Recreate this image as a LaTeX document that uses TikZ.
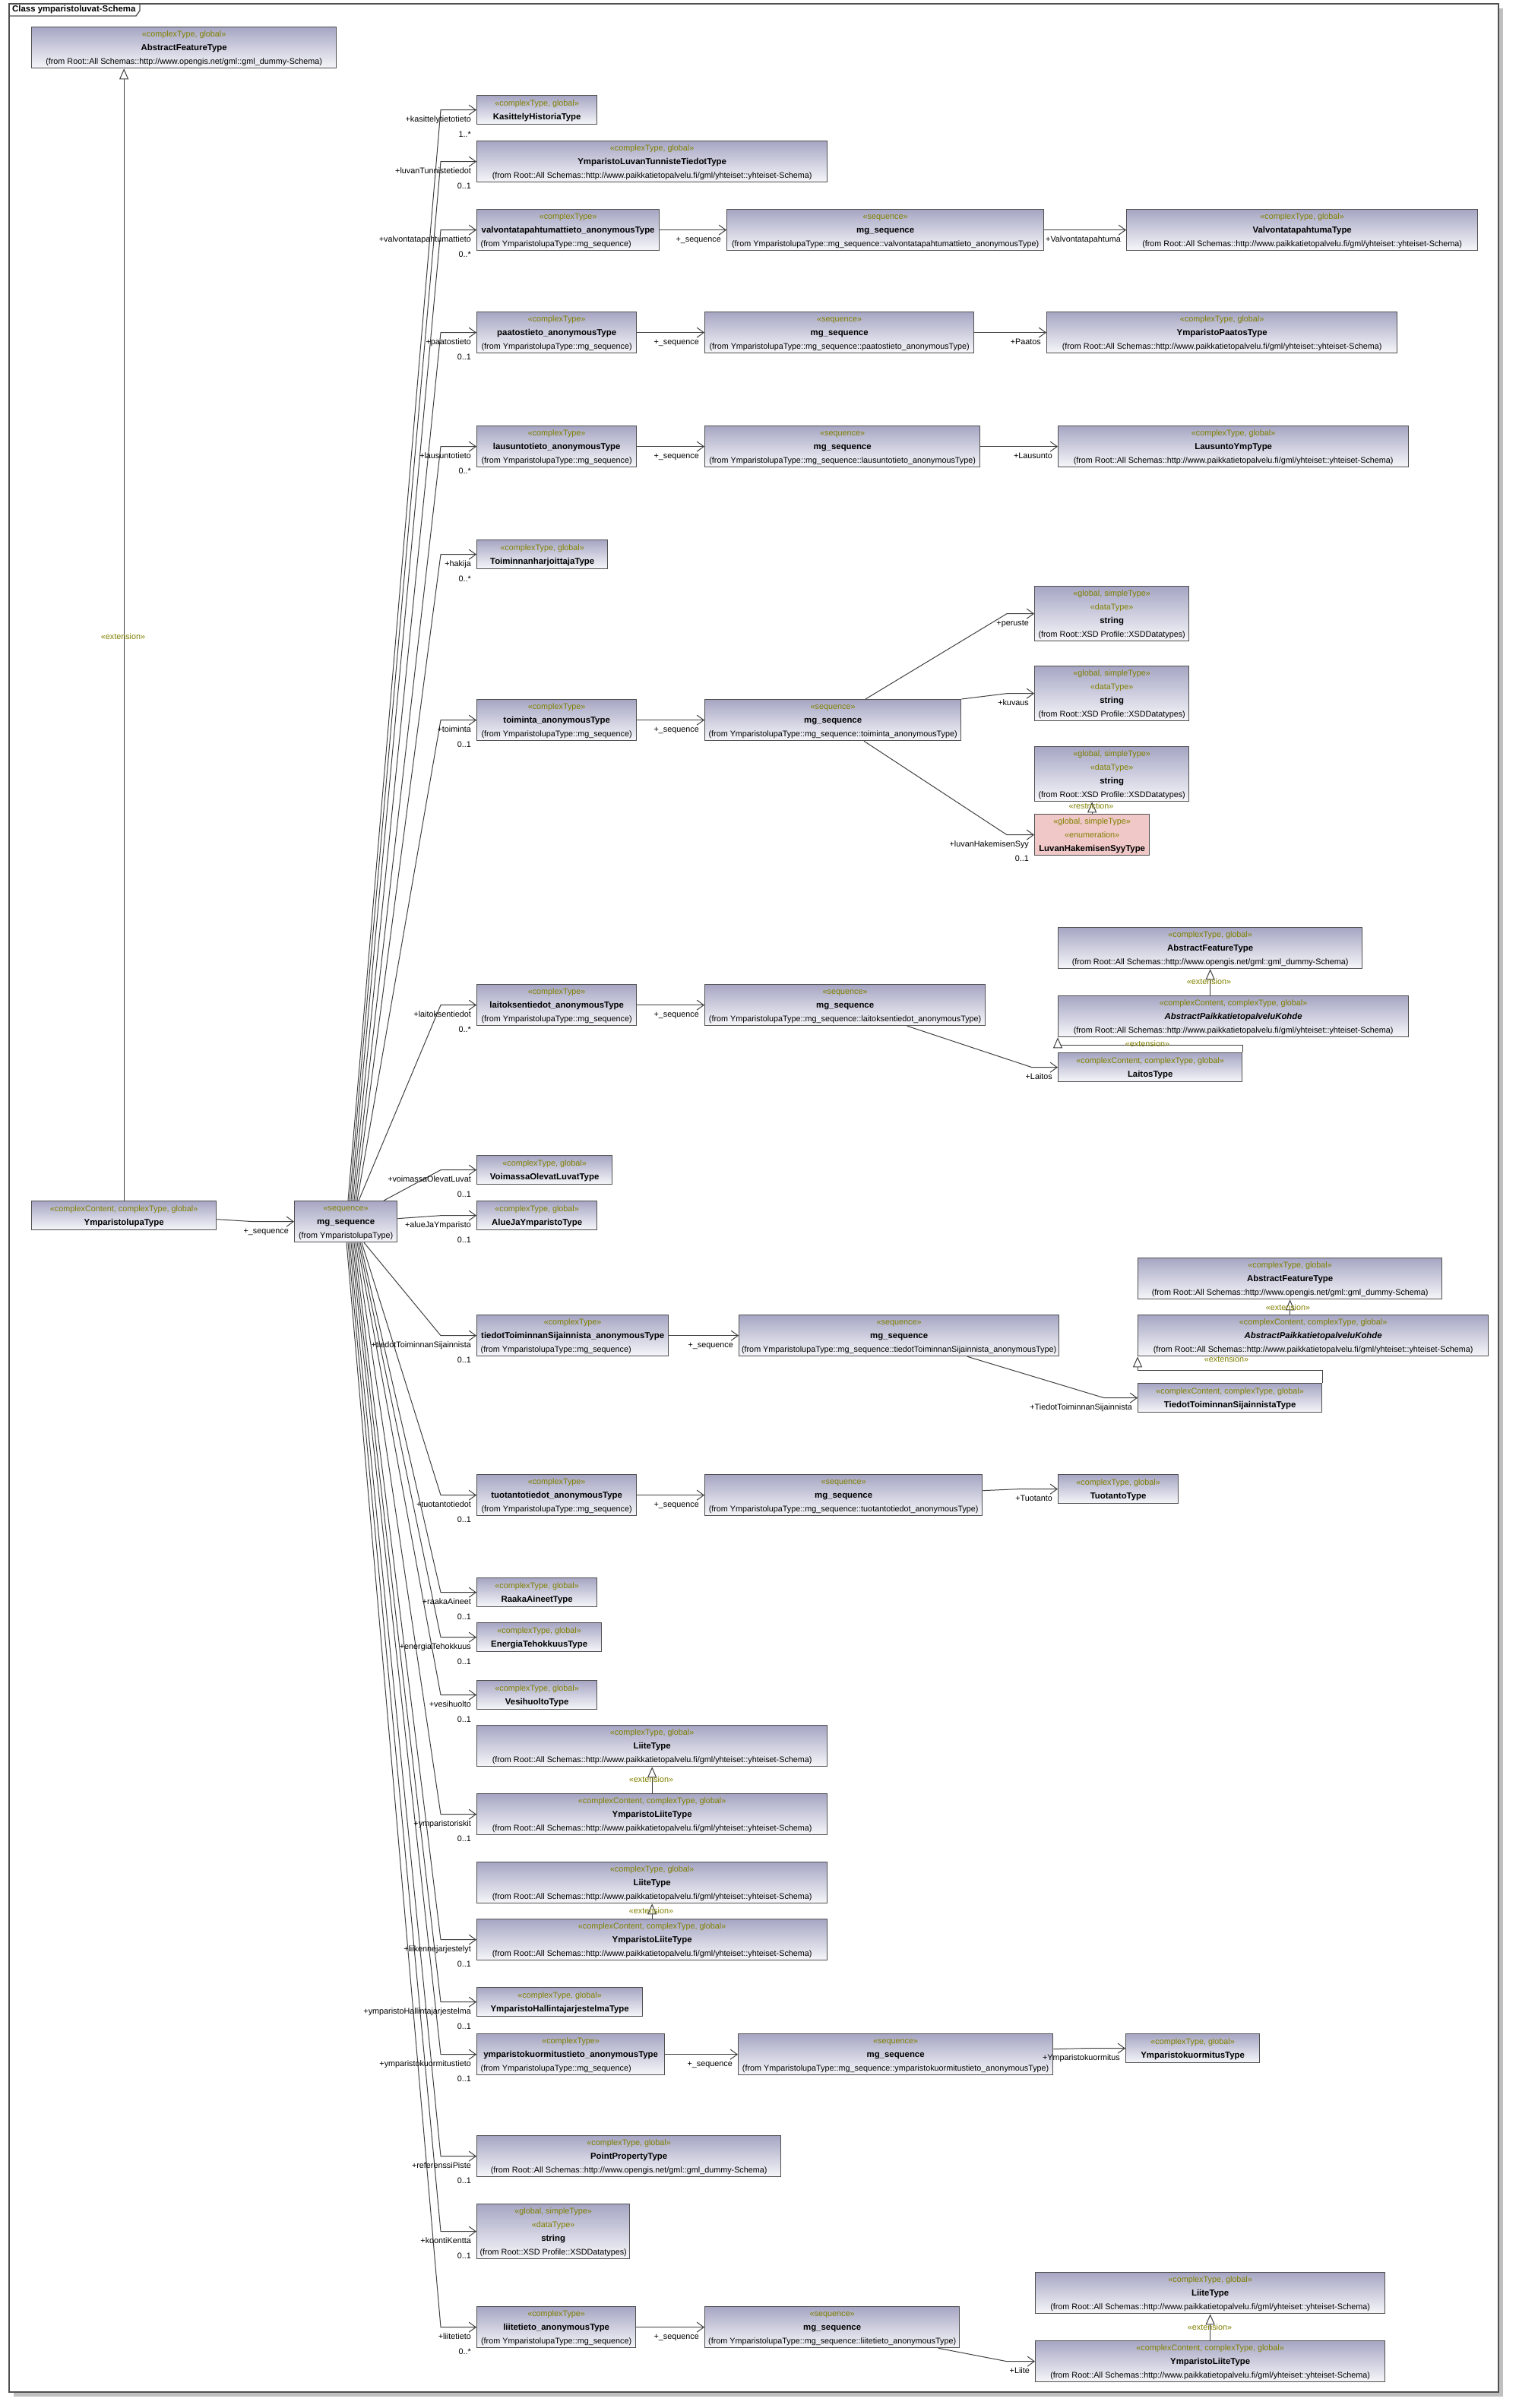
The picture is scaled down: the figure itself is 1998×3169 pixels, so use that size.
\documentclass[tikz,border=0pt]{standalone}
\usepackage{fontspec}
\setmainfont{Liberation Sans}
\usetikzlibrary{arrows.meta}
\definecolor{boxtop}{RGB}{166,166,196}
\definecolor{boxbot}{RGB}{246,246,250}
\definecolor{bdcol}{RGB}{80,80,80}
\definecolor{lncol}{RGB}{64,64,64}
\definecolor{stereo}{RGB}{128,128,0}
\definecolor{pinkbox}{RGB}{240,200,200}
\definecolor{shadowgray}{RGB}{192,192,192}
\newcommand\ustrut{\rule[-5.2pt]{0pt}{18pt}}
\newcommand\ust[1]{{\color{stereo}\ustrut\textless\textless #1\textgreater\textgreater}}
\newcommand\unm[1]{{\fontsize{11.4pt}{18pt}\selectfont\bfseries\ustrut #1}}
\newcommand\uni[1]{{\fontsize{11.4pt}{18pt}\selectfont\bfseries\itshape\ustrut #1}}
\newcommand\ufr[1]{{\ustrut #1}}
\newcommand\ufl[2]{{\ustrut\makebox[#1][l]{#2}}}
\newcommand\fromY{(from Root::All Schemas::http://www.paikkatietopalvelu.fi/gml/yhteiset::yhteiset-Schema)}
\newcommand\fromG{(from Root::All Schemas::http://www.opengis.net/gml::gml\_dummy-Schema)}
\newcommand\fromX{(from Root::XSD Profile::XSDDatatypes)}
\newcommand\fromM{(from YmparistolupaType::mg\_sequence)}
\newcommand\fromS[1]{(from YmparistolupaType::mg\_sequence::#1\_anonymousType)}
\newcommand\ext{\textless\textless extension\textgreater\textgreater}
\begin{document}
\begin{tikzpicture}[x=1pt,y=-1pt,
  boxbase/.style={rectangle, draw=bdcol, line width=1.3pt, inner sep=0pt, anchor=north west, align=center, font=\fontsize{10.8pt}{18pt}\selectfont},
  box/.style={boxbase, top color=boxtop, bottom color=boxbot},
  pinkb/.style={boxbase, fill=pinkbox},
  b2/.style={minimum height=38pt},
  b3/.style={minimum height=54pt},
  b4/.style={minimum height=72pt},
  assoc/.style={draw=lncol, line width=1pt, -{Straight Barb[length=9pt,width=13pt]}},
  gen/.style={draw=lncol, line width=1pt, -{Triangle[length=14pt,width=12pt,fill=white]}},
  rl/.style={inner sep=0pt, anchor=east, font=\fontsize{10.8pt}{13pt}\selectfont, text height=7.8pt, text depth=0pt},
  stl/.style={inner sep=0pt, anchor=center, text=stereo, font=\fontsize{10.8pt}{13pt}\selectfont, text height=7.8pt, text depth=0pt}
]
\useasboundingbox (0,0) rectangle (1998,3169);
% frame
\fill[shadowgray] (18,11) rectangle (1978,3154);
\draw[bdcol, line width=1.3pt, fill=white] (12,5) rectangle (1972,3148);
\draw[bdcol, line width=1.3pt] (12,21) -- (179,21) -- (184,14) -- (184,5);
\node[anchor=west, inner sep=0pt, font=\fontsize{11.4pt}{13pt}\selectfont\bfseries] (title) at (16,13) {Class ymparistoluvat-Schema};

% boxes
\node[box,b3,minimum width=401pt] (aft1) at (41,35) {\ust{complexType, global}\\\unm{AbstractFeatureType}\\\ufr{\fromG}};
\node[box,b2,minimum width=243pt] (ylt) at (41,1580) {\ust{complexContent, complexType, global}\\\unm{YmparistolupaType}};
\node[box,b3,minimum width=135pt] (msq) at (387,1580) {\ust{sequence}\\\unm{mg\_sequence}\\\ufr{(from YmparistolupaType)}};

\node[box,b2,minimum width=158pt] (kas) at (627,125) {\ust{complexType, global}\\\unm{KasittelyHistoriaType}};
\node[box,b3,minimum width=461pt] (lvt) at (627,185) {\ust{complexType, global}\\\unm{YmparistoLuvanTunnisteTiedotType}\\\ufr{\fromY}};

\node[box,b3,minimum width=240pt] (vaa) at (627,275) {\ust{complexType}\\\unm{valvontatapahtumattieto\_anonymousType}\\\ufl{230pt}{\fromM}};
\node[box,b3,minimum width=417pt] (vas) at (956,275) {\ust{sequence}\\\unm{mg\_sequence}\\\ufr{\fromS{valvontatapahtumattieto}}};
\node[box,b3,minimum width=462pt] (vat) at (1482,275) {\ust{complexType, global}\\\unm{ValvontatapahtumaType}\\\ufr{\fromY}};

\node[box,b3,minimum width=210pt] (paa) at (627,410) {\ust{complexType}\\\unm{paatostieto\_anonymousType}\\\ufr{\fromM}};
\node[box,b3,minimum width=354pt] (pas) at (927,410) {\ust{sequence}\\\unm{mg\_sequence}\\\ufr{\fromS{paatostieto}}};
\node[box,b3,minimum width=461pt] (pat) at (1377,410) {\ust{complexType, global}\\\unm{YmparistoPaatosType}\\\ufr{\fromY}};

\node[box,b3,minimum width=210pt] (laa) at (627,560) {\ust{complexType}\\\unm{lausuntotieto\_anonymousType}\\\ufr{\fromM}};
\node[box,b3,minimum width=362pt] (las) at (927,560) {\ust{sequence}\\\unm{mg\_sequence}\\\ufr{\fromS{lausuntotieto}}};
\node[box,b3,minimum width=461pt] (lat) at (1392,560) {\ust{complexType, global}\\\unm{LausuntoYmpType}\\\ufr{\fromY}};

\node[box,b2,minimum width=172pt] (hak) at (627,710) {\ust{complexType, global}\\\unm{ToiminnanharjoittajaType}};

\node[box,b3,minimum width=210pt] (toa) at (627,920) {\ust{complexType}\\\unm{toiminta\_anonymousType}\\\ufr{\fromM}};
\node[box,b3,minimum width=337pt] (tos) at (927,920) {\ust{sequence}\\\unm{mg\_sequence}\\\ufr{\fromS{toiminta}}};
\node[box,b4,minimum width=203pt] (str1) at (1361,771) {\ust{global, simpleType}\\\ust{dataType}\\\unm{string}\\\ufr{\fromX}};
\node[box,b4,minimum width=203pt] (str2) at (1361,876) {\ust{global, simpleType}\\\ust{dataType}\\\unm{string}\\\ufr{\fromX}};
\node[box,b4,minimum width=203pt] (str3) at (1361,982) {\ust{global, simpleType}\\\ust{dataType}\\\unm{string}\\\ufr{\fromX}};
\node[pinkb,b3,minimum width=151pt] (lhs) at (1361,1071) {\ust{global, simpleType}\\\ust{enumeration}\\\unm{LuvanHakemisenSyyType}};

\node[box,b3,minimum width=400pt] (af2) at (1392,1220) {\ust{complexType, global}\\\unm{AbstractFeatureType}\\\ufr{\fromG}};
\node[box,b3,minimum width=461pt] (apk1) at (1392,1310) {\ust{complexContent, complexType, global}\\\uni{AbstractPaikkatietopalveluKohde}\\\ufr{\fromY}};
\node[box,b2,minimum width=242pt] (lai) at (1392,1385) {\ust{complexContent, complexType, global}\\\unm{LaitosType}};
\node[box,b3,minimum width=210pt] (lka) at (627,1295) {\ust{complexType}\\\unm{laitoksentiedot\_anonymousType}\\\ufr{\fromM}};
\node[box,b3,minimum width=369pt] (lks) at (927,1295) {\ust{sequence}\\\unm{mg\_sequence}\\\ufr{\fromS{laitoksentiedot}}};

\node[box,b2,minimum width=178pt] (vol) at (627,1520) {\ust{complexType, global}\\\unm{VoimassaOlevatLuvatType}};
\node[box,b2,minimum width=158pt] (alu) at (627,1580) {\ust{complexType, global}\\\unm{AlueJaYmparistoType}};

\node[box,b3,minimum width=252pt] (tia) at (627,1730) {\ust{complexType}\\\unm{tiedotToiminnanSijainnista\_anonymousType}\\\ufl{242pt}{\fromM}};
\node[box,b3,minimum width=421pt] (tis) at (972,1730) {\ust{sequence}\\\unm{mg\_sequence}\\\ufr{\fromS{tiedotToiminnanSijainnista}}};
\node[box,b3,minimum width=400pt] (af3) at (1497,1655) {\ust{complexType, global}\\\unm{AbstractFeatureType}\\\ufr{\fromG}};
\node[box,b3,minimum width=461pt] (apk2) at (1497,1730) {\ust{complexContent, complexType, global}\\\uni{AbstractPaikkatietopalveluKohde}\\\ufr{\fromY}};
\node[box,b2,minimum width=242pt] (tit) at (1497,1820) {\ust{complexContent, complexType, global}\\\unm{TiedotToiminnanSijainnistaType}};

\node[box,b3,minimum width=210pt] (tua) at (627,1940) {\ust{complexType}\\\unm{tuotantotiedot\_anonymousType}\\\ufr{\fromM}};
\node[box,b3,minimum width=365pt] (tus) at (927,1940) {\ust{sequence}\\\unm{mg\_sequence}\\\ufr{\fromS{tuotantotiedot}}};
\node[box,b2,minimum width=158pt] (tut) at (1392,1940) {\ust{complexType, global}\\\unm{TuotantoType}};

\node[box,b2,minimum width=158pt] (raa) at (627,2076) {\ust{complexType, global}\\\unm{RaakaAineetType}};
\node[box,b2,minimum width=164pt] (ene) at (627,2135) {\ust{complexType, global}\\\unm{EnergiaTehokkuusType}};
\node[box,b2,minimum width=158pt] (ves) at (627,2211) {\ust{complexType, global}\\\unm{VesihuoltoType}};

\node[box,b3,minimum width=461pt] (lt1) at (627,2270) {\ust{complexType, global}\\\unm{LiiteType}\\\ufr{\fromY}};
\node[box,b3,minimum width=461pt] (yl1) at (627,2360) {\ust{complexContent, complexType, global}\\\unm{YmparistoLiiteType}\\\ufr{\fromY}};
\node[box,b3,minimum width=461pt] (lt2) at (627,2450) {\ust{complexType, global}\\\unm{LiiteType}\\\ufr{\fromY}};
\node[box,b3,minimum width=461pt] (yl2) at (627,2525) {\ust{complexContent, complexType, global}\\\unm{YmparistoLiiteType}\\\ufr{\fromY}};

\node[box,b2,minimum width=218pt] (yhj) at (627,2615) {\ust{complexType, global}\\\unm{YmparistoHallintajarjestelmaType}};
\node[box,b3,minimum width=247pt] (yka) at (627,2676) {\ust{complexType}\\\unm{ymparistokuormitustieto\_anonymousType}\\\ufl{237pt}{\fromM}};
\node[box,b3,minimum width=414pt] (yks) at (971,2676) {\ust{sequence}\\\unm{mg\_sequence}\\\ufr{\fromS{ymparistokuormitustieto}}};
\node[box,b2,minimum width=176pt] (ykt) at (1481,2676) {\ust{complexType, global}\\\unm{YmparistokuormitusType}};

\node[box,b3,minimum width=400pt] (ppt) at (627,2810) {\ust{complexType, global}\\\unm{PointPropertyType}\\\ufr{\fromG}};
\node[box,b4,minimum width=201pt] (str4) at (627,2900) {\ust{global, simpleType}\\\ust{dataType}\\\unm{string}\\\ufr{\fromX}};

\node[box,b3,minimum width=209pt] (lta) at (627,3035) {\ust{complexType}\\\unm{liitetieto\_anonymousType}\\\ufr{\fromM}};
\node[box,b3,minimum width=335pt] (lts) at (927,3035) {\ust{sequence}\\\unm{mg\_sequence}\\\ufr{\fromS{liitetieto}}};
\node[box,b3,minimum width=460pt] (lt3) at (1362,2990) {\ust{complexType, global}\\\unm{LiiteType}\\\ufr{\fromY}};
\node[box,b3,minimum width=460pt] (yl3) at (1362,3080) {\ust{complexContent, complexType, global}\\\unm{YmparistoLiiteType}\\\ufr{\fromY}};

% fan of associations from the main mg_sequence
\coordinate (bx) at (580,0);
\foreach \n/\s in {kas/71,lvt/73,vaa/75,paa/77,laa/79,hak/81,toa/83,lka/85}
  \draw[assoc] ([xshift=\s pt]msq.north west) -- (bx |- \n.west) -- (\n.west);
\foreach \n/\s in {tua/89,raa/87,ene/85,ves/83,yl1/81,yl2/79,yhj/77,yka/75,ppt/73,str4/71,lta/69}
  \draw[assoc] ([xshift=\s pt]msq.south west) -- (bx |- \n.west) -- (\n.west);
\draw[assoc] ([xshift=118pt]msq.north west) -- (bx |- vol.west) -- (vol.west);
\draw[assoc] ([yshift=4pt]msq.east) -- (bx |- alu.west) -- (alu.west);
\draw[assoc] ([xshift=92pt]msq.south west) -- (bx |- tia.west) -- (tia.west);
\draw[assoc] ([yshift=-5pt]ylt.east) -- ([xshift=-54pt]msq.west) -- (msq.west);

% straight associations
\foreach \a/\b in {vaa/vas,vas/vat,paa/pas,pas/pat,laa/las,las/lat,toa/tos,lka/lks,tia/tis,tua/tus,yka/yks,lta/lts}
  \draw[assoc] (\a.east) -- (\b.west);

% bent associations
\draw[assoc] ([xshift=212pt]tos.north west) -- ([xshift=-36pt]str1.west) -- (str1.west);
\draw[assoc] (tos.north east) -- ([xshift=-36pt]str2.west) -- (str2.west);
\draw[assoc] ([xshift=210pt]tos.south west) -- ([xshift=-36pt]lhs.west) -- (lhs.west);
\draw[assoc] ([xshift=267pt]lks.south west) -- ([xshift=-34pt]lai.west) -- (lai.west);
\draw[assoc] ([xshift=301pt]tis.south west) -- ([xshift=-44pt]tit.west) -- (tit.west);
\draw[assoc] ([yshift=6pt]tus.east) -- ([xshift=-52pt]tut.west) -- (tut.west);
\draw[assoc] ([yshift=7pt]yks.east) -- ([xshift=-55pt]ykt.west) -- (ykt.west);
\draw[assoc] ([xshift=308pt]lts.south west) -- ([xshift=-37pt]yl3.west) -- (yl3.west);

% generalizations
\draw[gen] (ylt.north) -- (ylt.north |- aft1.south);
\draw[gen] (af2.south |- apk1.north) -- (af2.south);
\draw[gen] (lai.north east) |- ([yshift=-10pt]apk1.south west) -- (apk1.south west);
\draw[gen] (af3.south |- apk2.north) -- (af3.south);
\draw[gen] (tit.north east) |- ([yshift=-18pt]apk2.south west) -- (apk2.south west);
\draw[gen] (yl1.north) -- (lt1.south);
\draw[gen] (yl2.north) -- (lt2.south);
\draw[gen] (yl3.north) -- (lt3.south);
\draw[gen] (lhs.north) -- (lhs.north |- str3.south);

% role names and multiplicities
\foreach \n/\r/\m in {kas/+kasittelytietotieto/1..*, lvt/+luvanTunnistetiedot/0..1, vaa/+valvontatapahtumattieto/0..*, paa/+paatostieto/0..1, laa/+lausuntotieto/0..*, hak/+hakija/0..*, toa/+toiminta/0..1, lka/+laitoksentiedot/0..*, vol/+voimassaOlevatLuvat/0..1, alu/+alueJaYmparisto/0..1, tia/+tiedotToiminnanSijainnista/0..1, tua/+tuotantotiedot/0..1, raa/+raakaAineet/0..1, ene/+energiaTehokkuus/0..1, ves/+vesihuolto/0..1, yl1/+ymparistoriskit/0..1, yl2/+liikennejarjestelyt/0..1, yhj/+ymparistoHallintajarjestelma/0..1, yka/+ymparistokuormitustieto/0..1, ppt/+referenssiPiste/0..1, str4/+koontiKentta/0..1, lta/+liitetieto/0..*}
{
  \node[rl] (r-\n) at ([xshift=-7pt,yshift=-12pt]\n.west) {\r};
  \node[rl] (m-\n) at ([xshift=-7pt,yshift=-32pt]\n.west) {\m};
}
\foreach \n/\r in {vat/+Valvontatapahtuma, pat/+Paatos, lat/+Lausunto, str1/+peruste, str2/+kuvaus, lhs/+luvanHakemisenSyy, lai/+Laitos, tit/+TiedotToiminnanSijainnista, tut/+Tuotanto, ykt/+Ymparistokuormitus, yl3/+Liite}
  \node[rl] (r-\n) at ([xshift=-7pt,yshift=-12pt]\n.west) {\r};
\node[rl] (m-lhs) at ([xshift=-7pt,yshift=-31pt]lhs.west) {0..1};
\foreach \n in {msq,vas,pas,las,tos,lks,tis,tus,yks,lts}
  \node[rl] (s-\n) at ([xshift=-7pt,yshift=-12pt]\n.west) {+\_sequence};

% stereotype labels on generalizations
\node[stl] (e1) at (162,838) {\ext};
\node[stl] (e2) at (1591,1292) {\ext};
\node[stl] (e3) at (1510,1374) {\ext};
\node[stl] (e4) at (1695,1721) {\ext};
\node[stl] (e5) at (1614,1789) {\ext};
\node[stl] (e6) at (857,2342) {\ext};
\node[stl] (e7) at (857,2515) {\ext};
\node[stl] (e8) at (1592,3063) {\ext};
\node[stl] (rs) at (1436,1061) {\textless\textless restriction\textgreater\textgreater};
\end{tikzpicture}
\end{document}
